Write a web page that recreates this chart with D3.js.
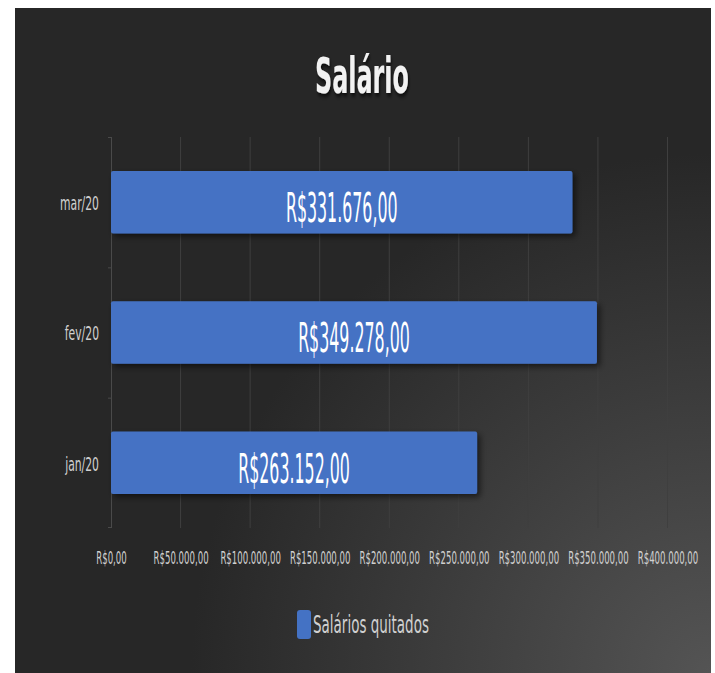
<!DOCTYPE html>
<html>
<head>
<meta charset="utf-8">
<script src="https://cdn.jsdelivr.net/npm/d3@7"></script>
<style>
  body { margin: 0; background: #ffffff; }
  text { font-family: "Liberation Sans Narrow", "DejaVu Sans Condensed", sans-serif; }
</style>
</head>
<body>
<div id="chart"></div>
<script>
// chart data
const meses = ["mar/20", "fev/20", "jan/20"];
const salarios = [331676, 349278, 263152];
const eixoX = [0, 50000, 100000, 150000, 200000, 250000, 300000, 350000, 400000];
const titulo = "Salário";
const serie = "Salários quitados";

// R$ 1.234,00 style
function brl(v) {
  let s = Math.round(v).toString().replace(/\B(?=(\d{3})+(?!\d))/g, ".");
  return "R$" + s + ",00";
}

// the original picture is squeezed sideways, so text gets narrowed
// (scaled around its own x so anchoring still holds)
function squish(sel, k) {
  sel.each(function() {
    let x0 = +this.getAttribute("x") || 0;
    d3.select(this).attr("transform",
      "translate(" + x0 + ",0) scale(" + k + ",1) translate(" + (-x0) + ",0)");
  });
}

const W = 715, H = 673;
const svg = d3.select("#chart").append("svg")
  .attr("width", W)
  .attr("height", H);

const defs = svg.append("defs");
const grad = defs.append("radialGradient")
  .attr("id", "bg")
  .attr("gradientUnits", "userSpaceOnUse")
  .attr("cx", 711).attr("cy", 673).attr("r", 520);
grad.append("stop").attr("offset", "0%").attr("stop-color", "#545454");
grad.append("stop").attr("offset", "100%").attr("stop-color", "#272727");

const shadow = defs.append("filter").attr("id", "sh")
  .attr("x", "-10%").attr("y", "-20%").attr("width", "130%").attr("height", "160%");
shadow.append("feDropShadow")
  .attr("dx", 3).attr("dy", 3).attr("stdDeviation", 3)
  .attr("flood-color", "#000").attr("flood-opacity", 0.55);

const tshadow = defs.append("filter").attr("id", "tsh")
  .attr("x", "-20%").attr("y", "-20%").attr("width", "140%").attr("height", "160%");
tshadow.append("feDropShadow")
  .attr("dx", 2).attr("dy", 3).attr("stdDeviation", 2)
  .attr("flood-color", "#000").attr("flood-opacity", 0.7);

// dark panel
svg.append("rect")
  .attr("x", 15).attr("y", 8)
  .attr("width", 696).attr("height", 665)
  .attr("fill", "url(#bg)");

// title
svg.append("text")
  .attr("x", 362).attr("y", 93)
  .attr("text-anchor", "middle")
  .attr("fill", "#f2f2f2")
  .attr("font-weight", "bold")
  .attr("font-size", 50)
  .attr("filter", "url(#tsh)")
  .text(titulo)
  .call(squish, 0.53);

const plotLeft = 111, plotRight = 667.5, plotTop = 137, plotBottom = 528;

const x = d3.scaleLinear()
  .domain([0, 400000])
  .range([plotLeft, plotRight]);

const y = d3.scaleBand()
  .domain(meses)
  .range([plotTop, plotBottom])
  .paddingInner(0.52)
  .paddingOuter(0.26);

// bands with no padding, for the category tick marks
const yCat = d3.scaleBand()
  .domain(meses)
  .range([plotTop, plotBottom]);

// vertical gridlines
svg.append("g")
  .selectAll("line")
  .data(eixoX.slice(1))
  .enter().append("line")
    .attr("x1", d => x(d)).attr("x2", d => x(d))
    .attr("y1", plotTop).attr("y2", plotBottom)
    .attr("stroke", "#3f3f3f")
    .attr("stroke-width", 1);

// x tick labels
const xAxis = d3.axisBottom(x)
  .tickValues(eixoX)
  .tickFormat(brl)
  .tickSize(0)
  .tickPadding(0);

const gx = svg.append("g")
  .attr("transform", "translate(0," + 551 + ")")
  .call(xAxis);
gx.select(".domain").remove();
gx.selectAll("text")
  .attr("dy", "0.71em")
  .attr("fill", "#d0d0d0")
  .attr("font-size", 18)
  .call(squish, 0.53);

// category axis line + tick marks between categories
const catLine = svg.append("g").attr("stroke", "#4a4a4a");
catLine.append("line")
  .attr("x1", plotLeft + 0.5).attr("x2", plotLeft + 0.5)
  .attr("y1", plotTop).attr("y2", plotBottom);
catLine.selectAll("line.tk")
  .data(meses.concat(["fim"]))
  .enter().append("line")
    .attr("class", "tk")
    .attr("x1", plotLeft - 3).attr("x2", plotLeft + 0.5)
    .attr("y1", (d, i) => i < meses.length ? yCat(d) + 0.5 : plotBottom - 0.5)
    .attr("y2", (d, i) => i < meses.length ? yCat(d) + 0.5 : plotBottom - 0.5);

// category labels
svg.append("g")
  .selectAll("text")
  .data(meses)
  .enter().append("text")
    .attr("x", 99)
    .attr("y", d => y(d) + y.bandwidth() / 2 + 8)
    .attr("text-anchor", "end")
    .attr("fill", "#d0d0d0")
    .attr("font-size", 20)
    .text(d => d)
    .call(squish, 0.6);

// bars
const data = meses.map((m, i) => ({ mes: m, valor: salarios[i] }));

svg.append("g")
  .selectAll("rect")
  .data(data)
  .enter().append("rect")
    .attr("x", x(0))
    .attr("y", d => y(d.mes))
    .attr("width", d => x(d.valor) - x(0))
    .attr("height", y.bandwidth())
    .attr("rx", 2)
    .attr("fill", "#4472c4")
    .attr("filter", "url(#sh)");

// value labels inside bars
svg.append("g")
  .selectAll("text")
  .data(data)
  .enter().append("text")
    .attr("x", d => (x(0) + x(d.valor)) / 2)
    .attr("y", d => y(d.mes) + y.bandwidth() / 2 + 20)
    .attr("text-anchor", "middle")
    .attr("fill", "#ffffff")
    .attr("font-size", 40)
    .text(d => brl(d.valor))
    .call(squish, 0.44);

// legend
svg.append("rect")
  .attr("x", 297).attr("y", 610)
  .attr("width", 14).attr("height", 29)
  .attr("rx", 3)
  .attr("fill", "#4472c4");

svg.append("text")
  .attr("x", 313).attr("y", 633)
  .attr("fill", "#d0d0d0")
  .attr("font-size", 25)
  .text(serie)
  .call(squish, 0.6);
</script>
</body>
</html>
